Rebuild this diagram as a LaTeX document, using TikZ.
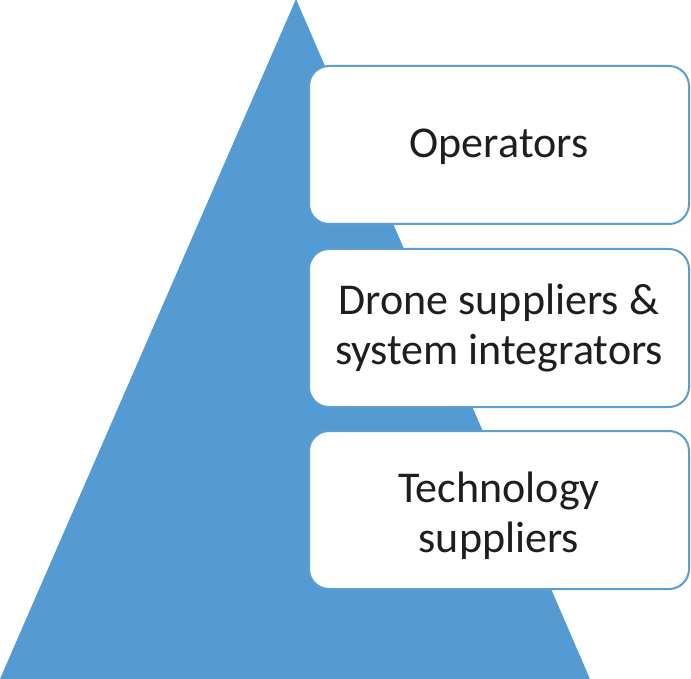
\documentclass[tikz,border=0pt]{standalone}
\usepackage{fontspec}
\setmainfont{Carlito}
\definecolor{pyrblue}{RGB}{84,155,212}
\definecolor{boxline}{RGB}{91,157,213}
\definecolor{txt}{RGB}{30,30,30}
\begin{document}
\begin{tikzpicture}[x=1pt,y=-1pt,
  tier/.style={draw=boxline,line width=2pt,fill=white,rounded corners=20pt,
    minimum width=380pt,minimum height=158pt,inner sep=0pt},
  tiertext/.style={align=center,inner sep=0pt,text=txt,
    font=\fontsize{44}{50}\selectfont}]
\useasboundingbox (0,0) rectangle (691,679);
\fill[pyrblue] (0,679) -- (296,-1) -- (590,679) -- cycle;
\node[tier] (op) at (499,145) {};
\node[tier] (ds) at (499,328) {};
\node[tier] (ts) at (499,510) {};
\node[tiertext] (opl) at ([yshift=-2pt]op.center) {Operators};
\node[tiertext] (dsl) at (ds.center) {Drone suppliers \&\\system integrators};
\node[tiertext] (tsl) at ([yshift=-6pt]ts.center) {Technology\\suppliers};
\end{tikzpicture}
\end{document}
